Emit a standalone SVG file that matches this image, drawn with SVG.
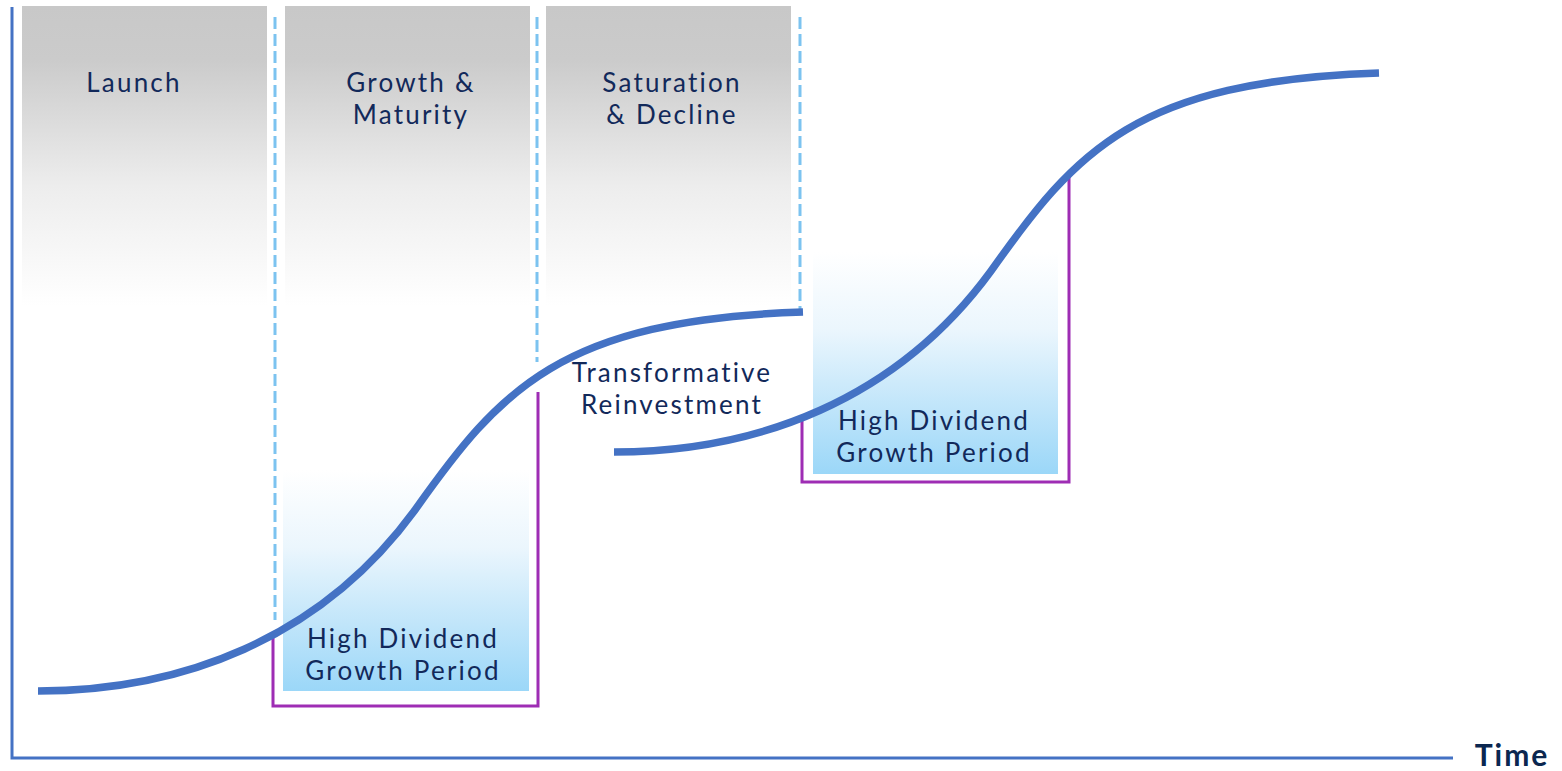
<svg xmlns="http://www.w3.org/2000/svg" width="1562" height="771" viewBox="0 0 1562 771">
  <defs>
    <linearGradient id="gray" x1="0" y1="0" x2="0" y2="1">
      <stop offset="0" stop-color="#c8c8c8"/>
      <stop offset="0.18" stop-color="#cbcbcb"/>
      <stop offset="0.6" stop-color="#ededed"/>
      <stop offset="1" stop-color="#ffffff"/>
    </linearGradient>
    <linearGradient id="blue" x1="0" y1="0" x2="0" y2="1">
      <stop offset="0" stop-color="#ffffff"/>
      <stop offset="0.35" stop-color="#ebf6fd"/>
      <stop offset="0.7" stop-color="#c0e5fa"/>
      <stop offset="1" stop-color="#9bd7f8"/>
    </linearGradient>
    <style>
      .lbl { font-family: Lato, "Open Sans", sans-serif; font-size: 26px; letter-spacing: 2.2px; fill: #12295a; text-anchor: middle; }
      .dash { stroke: #7cc3f0; stroke-width: 3; stroke-dasharray: 12 5; fill: none; }
      .brk { stroke: #9e2db4; stroke-width: 3; fill: none; }
      .curve { stroke: #4472c4; stroke-width: 7.5; fill: none; }
      .axis { stroke: #4472c4; stroke-width: 3; fill: none; }
    </style>
  </defs>

  <g id="phase-launch">
    <rect x="22" y="6" width="245" height="300" fill="url(#gray)"/>
    <text class="lbl" x="134" y="92">Launch</text>
  </g>
  <g id="phase-growth">
    <rect x="285" y="6" width="245" height="300" fill="url(#gray)"/>
    <text class="lbl" x="411" y="92">Growth &amp;</text>
    <text class="lbl" x="411" y="124">Maturity</text>
  </g>
  <g id="phase-saturation">
    <rect x="546" y="6" width="245" height="300" fill="url(#gray)"/>
    <text class="lbl" x="672" y="92">Saturation</text>
    <text class="lbl" x="672" y="124">&amp; Decline</text>
  </g>

  <g id="dividend-1">
    <rect x="283" y="470" width="246" height="221" fill="url(#blue)"/>
    <path class="brk" d="M273,636 V706 H538 V392"/>
    <text class="lbl" x="403" y="648">High Dividend</text>
    <text class="lbl" x="403" y="680">Growth Period</text>
  </g>
  <g id="dividend-2">
    <rect x="813" y="252" width="245" height="222" fill="url(#blue)"/>
    <path class="brk" d="M802,418 V482 H1069 V172"/>
  </g>

  <g id="dividers">
    <line class="dash" x1="275" y1="17" x2="275" y2="620"/>
    <line class="dash" x1="537" y1="17" x2="537" y2="362"/>
    <line class="dash" x1="800" y1="17" x2="800" y2="310"/>
  </g>

  <g id="axes">
    <path class="axis" d="M12,7 V758 H1453"/>
    <text x="1512" y="766" font-family="Lato, 'Open Sans', sans-serif" font-size="30" font-weight="bold" letter-spacing="2" fill="#0b2750" text-anchor="middle">Time</text>
  </g>

  <g id="connectors">
    <path id="curve-1" class="curve" d="M38,691 C180,691 320,640 415,510 C500,390 560,320 803,312"/>
    <path id="curve-2" class="curve" d="M614,452 C756,452 896,401 991,271 C1076,151 1136,81 1379,73"/>
  </g>

  <g id="label-transform">
    <text class="lbl" x="672" y="382">Transformative</text>
    <text class="lbl" x="672" y="414">Reinvestment</text>
  </g>
  <g id="label-dividend-2">
    <text class="lbl" x="934" y="430">High Dividend</text>
    <text class="lbl" x="934" y="462">Growth Period</text>
  </g>
</svg>
